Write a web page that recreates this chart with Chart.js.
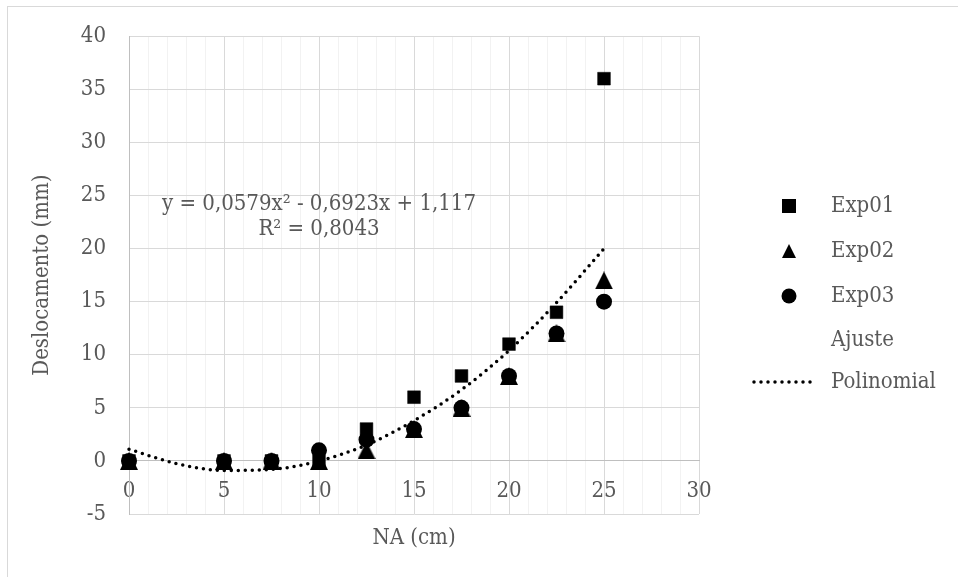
<!DOCTYPE html>
<html><head><meta charset="utf-8">
<script src="https://cdn.jsdelivr.net/npm/chart.js@4/dist/chart.umd.min.js"></script>
<style>html,body{margin:0;padding:0;background:#fff;} #wrap{position:relative;width:958px;height:577px;}</style>
</head><body><div id="wrap"><canvas id="c" width="958" height="577"></canvas></div>
<script>
// ---- data ----
const naCm = [0, 5, 7.5, 10, 12.5, 15, 17.5, 20, 22.5, 25];
const exp01 = [0, 0, 0, 0, 3, 6, 8, 11, 14, 36];
const exp02 = [0, 0, 0, 0, 1, 3, 5, 8, 12, 17];
const exp03 = [0, 0, 0, 1, 2, 3, 5, 8, 12, 15];
const trendX = [0, 2.5, 5, 7.5, 10, 12.5, 15, 17.5, 20, 22.5, 25];
const trendY = [1.1, -0.25, -0.9, -0.8, 0, 1.5, 3.8, 6.7, 10.4, 14.9, 20.0];
const xMin = 0, xMax = 30, xMajor = 5, xMinor = 1;
const yMin = -5, yMax = 40, yStep = 5;
const xTitle = 'NA (cm)';
const yTitle = 'Deslocamento (mm)';
const equationLines = ['y = 0,0579x² - 0,6923x + 1,117', 'R² = 0,8043'];
const legendLabels = ['Exp01', 'Exp02', 'Exp03', 'Ajuste', 'Polinomial'];

const FAMILY = '"DejaVu Serif Condensed", "DejaVu Serif", serif';
const FSIZE = 22;
const TXT = '#595959';

function makeTri(size) {
  const c = document.createElement('canvas');
  c.width = size; c.height = size;
  const g = c.getContext('2d');
  g.fillStyle = '#000';
  g.beginPath(); g.moveTo(size / 2, 0); g.lineTo(size, size); g.lineTo(0, size); g.closePath(); g.fill();
  return c;
}
const triImg = makeTri(18);

const toPts = (xs, ys) => xs.map((x, i) => ({x: x, y: ys[i]}));

const overlay = {
  id: 'overlay',
  beforeDraw(chart) {
    const ctx = chart.ctx;
    ctx.save();
    ctx.fillStyle = '#fff';
    ctx.fillRect(0, 0, chart.width, chart.height);
    ctx.strokeStyle = '#d9d9d9';
    ctx.lineWidth = 1;
    ctx.strokeRect(7.5, 6.5, chart.width, chart.height);
    ctx.restore();
  },
  afterDraw(chart) {
    const ctx = chart.ctx;
    const xs = chart.scales.x, ys = chart.scales.y;
    ctx.save();
    ctx.font = FSIZE + 'px ' + FAMILY;
    ctx.fillStyle = TXT;
    ctx.textAlign = 'center';
    ctx.textBaseline = 'middle';
    const cx = xs.getPixelForValue(10);
    ctx.fillText(equationLines[0], cx, ys.getPixelForValue(24.2));
    ctx.fillText(equationLines[1], cx, ys.getPixelForValue(21.8));

    // legend
    const mx = 789, tx = 831;
    const rows = [206, 251, 296, 340, 382];
    ctx.textAlign = 'left';
    for (let i = 0; i < legendLabels.length; i++) {
      ctx.fillStyle = TXT;
      ctx.fillText(legendLabels[i], tx, rows[i]);
    }
    ctx.fillStyle = '#000';
    ctx.fillRect(mx - 7, rows[0] - 7, 14, 14);
    ctx.beginPath(); ctx.moveTo(mx, rows[1] - 7); ctx.lineTo(mx + 7, rows[1] + 7); ctx.lineTo(mx - 7, rows[1] + 7); ctx.closePath(); ctx.fill();
    ctx.beginPath(); ctx.arc(mx, rows[2], 7.5, 0, Math.PI * 2); ctx.fill();
    ctx.strokeStyle = '#000';
    ctx.lineWidth = 3.5;
    ctx.lineCap = 'round';
    ctx.setLineDash([0, 7]);
    ctx.beginPath(); ctx.moveTo(754, rows[4]); ctx.lineTo(817, rows[4]); ctx.stroke();
    ctx.restore();
  }
};

const font = {family: FAMILY, size: FSIZE};

new Chart(document.getElementById('c'), {
  type: 'scatter',
  data: {
    datasets: [
      {label: 'Ajuste Polinomial', data: toPts(trendX, trendY), showLine: true, pointRadius: 0,
       borderColor: '#000', borderWidth: 3.5, borderDash: [0, 7], borderCapStyle: 'round',
       cubicInterpolationMode: 'monotone', fill: false, order: -1, clip: false},
      {label: 'Exp01', data: toPts(naCm, exp01), pointStyle: 'rect', pointRadius: 9, pointBorderWidth: 0.5,
       backgroundColor: '#000', borderColor: '#000', order: 3, clip: false},
      {label: 'Exp02', data: toPts(naCm, exp02), pointStyle: triImg, pointRadius: 9,
       backgroundColor: '#000', borderColor: '#000', order: 2, clip: false},
      {label: 'Exp03', data: toPts(naCm, exp03), pointStyle: 'circle', pointRadius: 8, pointBorderWidth: 0,
       backgroundColor: '#000', borderColor: '#000', order: 1, clip: false}
    ]
  },
  options: {
    responsive: false,
    animation: false,
    layout: {padding: {left: 0, top: 35, right: 259, bottom: 0}},
    plugins: {legend: {display: false}, tooltip: {enabled: false}},
    scales: {
      x: {
        type: 'linear', position: 'bottom', min: xMin, max: xMax,
        ticks: {stepSize: xMinor, maxTicksLimit: 100, display: false},
        grid: {color: c => (c.tick && c.tick.value % xMajor === 0) ? '#d9d9d9' : '#f2f2f2', drawTicks: false, lineWidth: 1},
        border: {display: false},
        title: {display: true, text: xTitle, color: TXT, font: font, padding: {top: 0, bottom: 26}},
        afterFit: s => { s.height = 63; }
      },
      x2: {
        type: 'linear', axis: 'x', position: {y: 0}, min: xMin, max: xMax,
        ticks: {stepSize: xMajor, color: TXT, font: font, padding: 17},
        grid: {display: false, drawTicks: false},
        border: {display: true, color: '#bfbfbf', width: 1}
      },
      y: {
        type: 'linear', position: 'left', min: yMin, max: yMax,
        ticks: {stepSize: yStep, color: TXT, font: font, padding: 23},
        grid: {color: '#d9d9d9', drawTicks: false, lineWidth: 1},
        border: {display: true, color: '#bfbfbf', width: 1},
        title: {display: true, text: yTitle, color: TXT, font: font, padding: {top: 29, bottom: 0}},
        afterFit: s => { s.width = 129; }
      }
    }
  },
  plugins: [overlay]
});
</script></body></html>
